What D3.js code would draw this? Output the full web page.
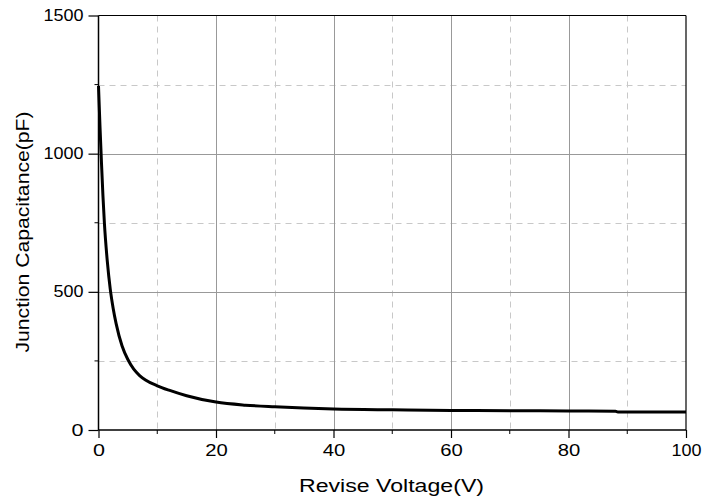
<!DOCTYPE html>
<html><head><meta charset="utf-8">
<script src="https://cdn.jsdelivr.net/npm/d3@7"></script>
<style>body{margin:0;background:#fff}svg{display:block}text{font-family:"Liberation Sans",Arial,sans-serif;fill:#000}</style>
</head><body><svg id="c" width="704" height="502"></svg>
<script>
const voltage = [0, 0.25, 0.5, 0.75, 1, 1.5, 2, 2.5, 3, 4, 5, 6, 7, 8, 10, 12, 15, 20, 25, 30, 40, 50, 60, 70, 80, 88, 88.4, 100];
const capacitance = [1245, 1100, 970, 850, 750, 610, 510, 440, 385, 305, 255, 220, 197, 181, 160, 144, 124, 101, 90, 84, 76, 73, 71, 70, 69, 68, 65.5, 65];
const xMajorTicks = [0, 20, 40, 60, 80, 100];
const xMinorTicks = [10, 30, 50, 70, 90];
const yMajorTicks = [0, 500, 1000, 1500];
const yMinorTicks = [250, 750, 1250];
const xTitle = "Revise Voltage(V)";
const yTitle = "Junction Capacitance(pF)";

const L = 98.5, R = 686, T = 15.5, B = 430;
const svg = d3.select("#c");
const x = d3.scaleLinear().domain([0, 100]).range([L, R]);
const y = d3.scaleLinear().domain([0, 1500]).range([B, T]);

// grid
const g = svg.append("g");
g.selectAll(".vmin").data(xMinorTicks).join("line")
  .attr("x1", d => Math.round(x(d)) + 0.5).attr("x2", d => Math.round(x(d)) + 0.5)
  .attr("y1", T).attr("y2", B).attr("stroke", "#c8c8c8").attr("stroke-dasharray", "6,5");
g.selectAll(".hmin").data(yMinorTicks).join("line")
  .attr("y1", d => Math.round(y(d)) + 0.5).attr("y2", d => Math.round(y(d)) + 0.5)
  .attr("x1", L).attr("x2", R).attr("stroke", "#c8c8c8").attr("stroke-dasharray", "6,5");
g.selectAll(".vmaj").data(xMajorTicks.filter(d => d > 0 && d < 100)).join("line")
  .attr("x1", d => Math.round(x(d)) + 0.5).attr("x2", d => Math.round(x(d)) + 0.5)
  .attr("y1", T).attr("y2", B).attr("stroke", "#999");
g.selectAll(".hmaj").data(yMajorTicks.filter(d => d > 0 && d < 1500)).join("line")
  .attr("y1", d => Math.round(y(d)) + 0.5).attr("y2", d => Math.round(y(d)) + 0.5)
  .attr("x1", L).attr("x2", R).attr("stroke", "#999");

// borders
svg.append("line").attr("x1", L).attr("x2", R).attr("y1", T).attr("y2", T).attr("stroke", "#000").attr("stroke-width", 1.2);
svg.append("line").attr("x1", R).attr("x2", R).attr("y1", T).attr("y2", B).attr("stroke", "#000").attr("stroke-width", 1.2);

// label width helper (reference glyphs are slightly wide)
const labelLen = s => ({1: 12, 2: 22.5, 3: 30, 4: 40})[String(s).length];

// axes
const xAxis = svg.append("g").attr("transform", `translate(0,${B})`)
  .call(d3.axisBottom(x).tickValues(xMajorTicks).tickSize(8).tickPadding(7).tickFormat(d3.format("d")));
xAxis.append("g").selectAll("line").data(xMinorTicks).join("line")
  .attr("x1", d => x(d)).attr("x2", d => x(d)).attr("y1", 0).attr("y2", 4).attr("stroke", "#000");
const yAxis = svg.append("g").attr("transform", `translate(${L},0)`)
  .call(d3.axisLeft(y).tickValues(yMajorTicks).tickSize(10).tickPadding(5).tickFormat(d3.format("d")));
yAxis.append("g").selectAll("line").data(yMinorTicks).join("line")
  .attr("y1", d => y(d)).attr("y2", d => y(d)).attr("x1", 0).attr("x2", -4).attr("stroke", "#000");
[xAxis, yAxis].forEach(a => {
  a.select(".domain").attr("stroke", "#000").attr("stroke-width", 1.5);
  a.selectAll(".tick line").attr("stroke", "#000").attr("stroke-width", 1.2);
  a.selectAll(".tick text").attr("font-size", 16).attr("font-family", "Liberation Sans, Arial, sans-serif").attr("fill", "#000")
    .attr("textLength", d => labelLen(d)).attr("lengthAdjust", "spacingAndGlyphs");
});
xAxis.select(".domain").attr("d", `M${L},0H${R}`);
yAxis.select(".domain").attr("d", `M0,${T}V${B}`);

// curve
const data = voltage.map((v, i) => [v, capacitance[i]]);
svg.append("path").datum(data)
  .attr("fill", "none").attr("stroke", "#000").attr("stroke-width", 3)
  .attr("d", d3.line().x(d => x(d[0])).y(d => y(d[1])).curve(d3.curveMonotoneX));

// titles
svg.append("text").attr("x", 391.5).attr("y", 492).attr("text-anchor", "middle").attr("font-size", 17.5)
  .attr("textLength", 185).attr("lengthAdjust", "spacingAndGlyphs").text(xTitle);
svg.append("text").attr("transform", "translate(29,232) rotate(-90)").attr("text-anchor", "middle").attr("font-size", 17.5)
  .attr("textLength", 241).attr("lengthAdjust", "spacingAndGlyphs").text(yTitle);
</script></body></html>
